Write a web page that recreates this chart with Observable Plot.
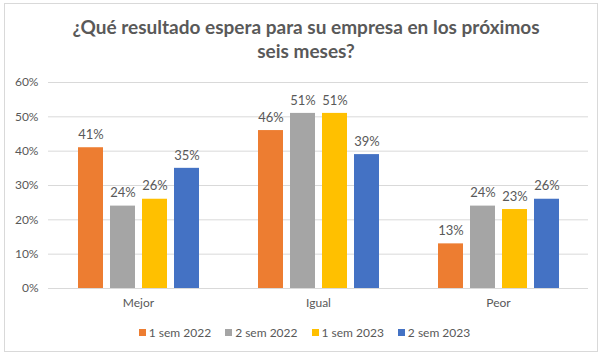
<!DOCTYPE html>
<html>
<head>
<meta charset="utf-8">
<script src="https://cdn.jsdelivr.net/npm/d3@7"></script>
<script src="https://cdn.jsdelivr.net/npm/@observablehq/plot@0.6"></script>
<style>
  html, body { margin: 0; padding: 0; background: #fff; }
  #wrap { position: relative; width: 609px; height: 359px; overflow: hidden; font-family: Lato, "Open Sans", sans-serif; color: #595959; }
  #frame { position: absolute; left: 4px; top: 3px; width: 592px; height: 347px; border: 1px solid #D9D9D9; }
  #title { position: absolute; left: 0; top: 15px; width: 612px; text-align: center; font-size: 19px; font-weight: bold; line-height: 24px; color: #595959; }
  #chart { position: absolute; left: 0; top: 60px; }
  #legend { position: absolute; left: 0; top: 325px; width: 609px; display: flex; justify-content: center; gap: 14px; font-size: 12px; color: #595959; }
  .item { display: flex; align-items: center; gap: 3px; }
  .sw { width: 7px; height: 7px; display: inline-block; }
</style>
</head>
<body>
<div id="wrap">
  <div id="frame"></div>
  <div id="title">¿Qué resultado espera para su empresa en los próximos<br>seis meses?</div>
  <div id="chart"></div>
  <div id="legend"></div>
</div>
<script>
const categories = ["Mejor", "Igual", "Peor"];
const seriesNames = ["1 sem 2022", "2 sem 2022", "1 sem 2023", "2 sem 2023"];
const colors = ["#ED7D31", "#A5A5A5", "#FFC000", "#4472C4"];
const s1_2022 = [41, 46, 13];
const s2_2022 = [24, 51, 24];
const s1_2023 = [26, 51, 23];
const s2_2023 = [35, 39, 26];
const yTicks = [0, 10, 20, 30, 40, 50, 60];

const seriesValues = [s1_2022, s2_2022, s1_2023, s2_2023];
const data = [];
categories.forEach((c, i) => {
  seriesNames.forEach((s, j) => {
    data.push({cat: c, series: s, value: seriesValues[j][i]});
  });
});

const plot = Plot.plot({
  width: 609,
  height: 250,
  marginTop: 22,
  marginBottom: 22,
  marginLeft: 48,
  marginRight: 21,
  style: {fontFamily: "Lato, 'Open Sans', sans-serif", fontSize: "12px", color: "#595959", background: "transparent"},
  facet: {data, x: "cat"},
  fx: {domain: categories, padding: 0, label: null, tickSize: 0, tickPadding: 10},
  x: {domain: seriesNames, paddingInner: 0.22, paddingOuter: 0.88, axis: null},
  y: {domain: [0, 60], ticks: yTicks, tickFormat: d => d + "%", label: null, tickSize: 0, tickPadding: 10},
  color: {domain: seriesNames, range: colors},
  marks: [
    Plot.ruleY(yTicks, {stroke: "#D9D9D9", strokeWidth: 1}),
    Plot.barY(data, {x: "series", y: "value", fill: "series"}),
    Plot.text(data, {x: "series", y: "value", text: d => d.value + "%", dy: -13, fill: "#595959", fontSize: 13})
  ]
});
document.getElementById("chart").appendChild(plot);

const legend = document.getElementById("legend");
seriesNames.forEach((s, i) => {
  const it = document.createElement("div");
  it.className = "item";
  const sw = document.createElement("span");
  sw.className = "sw";
  sw.style.background = colors[i];
  it.appendChild(sw);
  const t = document.createElement("span");
  t.textContent = s;
  it.appendChild(t);
  legend.appendChild(it);
});
</script>
</body>
</html>
